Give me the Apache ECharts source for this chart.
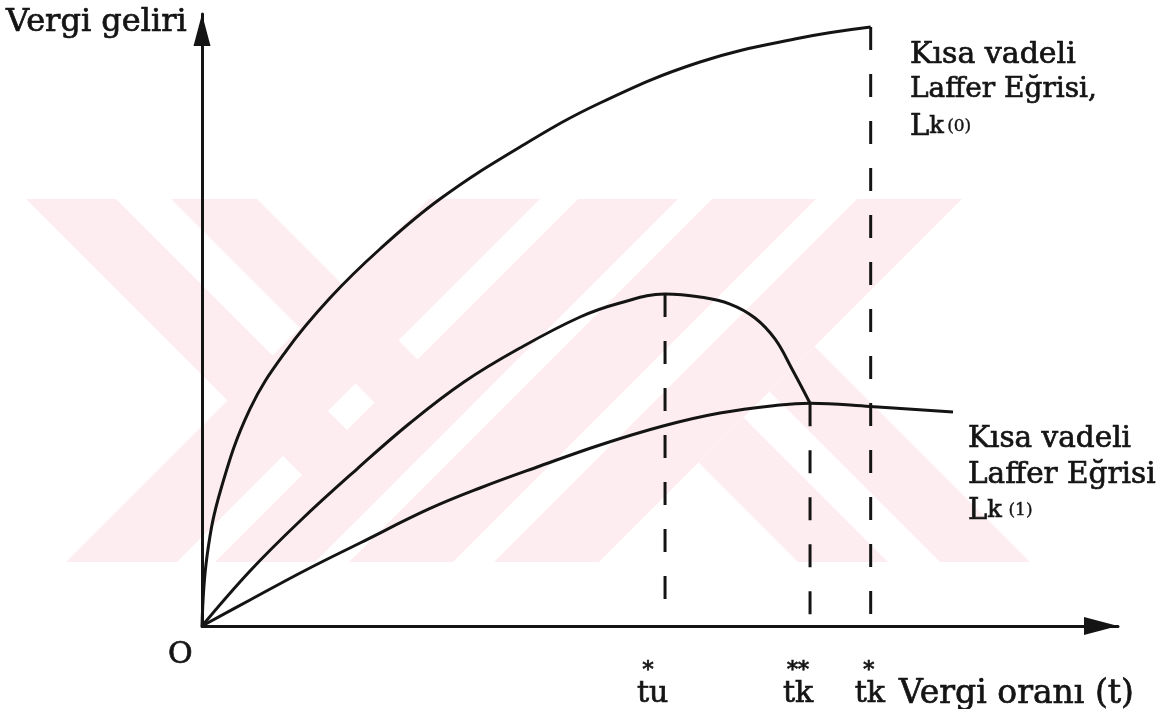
<!DOCTYPE html>
<html>
<head>
<meta charset="utf-8">
<script src="https://cdn.jsdelivr.net/npm/echarts@6/dist/echarts.min.js"></script>
<style>
  html, body { margin: 0; padding: 0; background: #fff; }
  #chart { width: 1169px; height: 709px; }
</style>
</head>
<body>
<div id="chart"></div>
<script>
// curves (x = tax rate, y = revenue, both 0..100)
const lk0Curve = [[0, 0], [0.55, 11.44], [2.07, 22.39], [5.24, 35.46], [9.17, 44.93], [13.97, 53.59],
  [19.43, 61.6], [25.98, 69.77], [34.72, 78.27], [43.45, 85.46], [54.37, 92.16], [65.28, 96.08], [73.0, 97.88]];
const longCurve = [[0, 0], [5.24, 8.99], [10.7, 17.16], [16.92, 25.65], [22.71, 33.17], [28.6, 39.87],
  [34.72, 45.42], [41.27, 50.49], [45.63, 52.78], [50.55, 54.25], [54.37, 53.76], [57.64, 52.61],
  [60.37, 50.33], [62.55, 46.9], [64.41, 41.99], [66.38, 36.4]];
const lk1Curve = [[0, 0], [5.24, 4.25], [11.14, 8.99], [17.25, 13.56], [24.78, 19.12], [30.35, 22.55],
  [36.9, 26.14], [43.45, 29.58], [50.33, 32.68], [56.55, 34.8], [63.1, 36.11], [66.38, 36.4],
  [72.93, 35.87], [81.99, 34.97]];

// vertical dashed guides
const guideX = [50.55, 66.38, 73.0];
const guideTop = [54.25, 36.4, 97.88];
const guideBottom = 1.5;

// labels under the x axis
const guideNames = ['tu', 'tk', 'tk'];
const guideStars = ['*', '**', '*'];
const nameNudge = [-28, -27, -16];
const starNudge = [-17, -12, -2];

const INK = '#141414';
const SERIF = '"DejaVu Serif", "Liberation Serif", serif';

const chart = echarts.init(document.getElementById('chart'), null, { renderer: 'canvas' });

const solid = (name, data) => ({
  type: 'line', name, data, smooth: 0.4,
  showSymbol: false, silent: true, clip: false,
  lineStyle: { color: INK, width: 3 }
});

const dashed = guideX.map((x, i) => ({
  type: 'line', data: [[x, guideTop[i]], [x, guideBottom]],
  showSymbol: false, silent: true,
  lineStyle: { color: INK, width: 3, type: [23, 24], cap: 'butt' }
}));

chart.setOption({
  animation: false,
  backgroundColor: '#ffffff',
  grid: { left: 202, right: 51, top: 14, bottom: 83 },
  xAxis: {
    type: 'value', min: 0, max: 100,
    axisLine: { onZero: false, symbol: ['none', 'triangle'], symbolSize: [18, 34], symbolOffset: [0, -17],
      lineStyle: { color: INK, width: 3 } },
    axisTick: { show: false }, axisLabel: { show: false }, splitLine: { show: false }
  },
  yAxis: {
    type: 'value', min: 0, max: 100,
    axisLine: { onZero: false, symbol: ['none', 'triangle'], symbolSize: [17, 32], symbolOffset: [0, -16],
      lineStyle: { color: INK, width: 3 } },
    axisTick: { show: false }, axisLabel: { show: false }, splitLine: { show: false }
  },
  series: [solid('Lk(0)', lk0Curve), solid('uzun', longCurve), solid('Lk(1)', lk1Curve)].concat(dashed)
});

// faint stripe watermark of the scan
const PINK = '#fdedf0';
const stripes = [
  [[26, 199], [116, 199], [397, 480], [352, 525]],
  [[171, 199], [257, 199], [467.5, 409.5], [424.5, 452.5]],
  [[429, 199], [540, 199], [177, 562], [66, 562]],
  [[578, 199], [678, 199], [315, 562], [215, 562]],
  [[712, 199], [816, 199], [453, 562], [349, 562]],
  [[857, 199], [962, 199], [599, 562], [494, 562]],
  [[698.5, 462.5], [743.5, 417.5], [888, 562], [798, 562]],
  [[769.5, 391.5], [814.5, 346.5], [1030, 562], [940, 562]]
];

const text = (x, y, t, size, extra) => ({
  type: 'text', z: 100, silent: true,
  style: Object.assign({ x, y, text: t, font: size + 'px ' + SERIF, fill: INK,
    stroke: INK, lineWidth: 0.7,
    textAlign: 'left', textVerticalAlign: 'middle' }, extra || {})
});

const lkRich = {
  L: { fontFamily: SERIF, fontSize: 29, fill: INK, stroke: INK, lineWidth: 0.7 },
  k: { fontFamily: SERIF, fontSize: 24, fill: INK, stroke: INK, lineWidth: 0.7 },
  s: { fontFamily: SERIF, fontSize: 17, fill: INK, stroke: INK, lineWidth: 0.4 }
};

const lkText = (x, y, t) => ({
  type: 'text', z: 100, silent: true,
  style: { x, y, text: t, rich: lkRich, fill: INK, textAlign: 'left', textVerticalAlign: 'middle' }
});

const graphics = stripes.map(pts => ({
  type: 'polygon', z: -10, silent: true, shape: { points: pts }, style: { fill: PINK }
}));

graphics.push(
  text(6, 23, 'Vergi geliri', 32),
  text(910, 55, 'Kısa vadeli', 30),
  text(910, 90, 'Laffer Eğrisi,', 28),
  lkText(910, 127, '{L|L}{k|k} {s|(0)}'),
  text(968, 439, 'Kısa vadeli', 29.5),
  text(968, 475, 'Laffer Eğrisi', 29.5),
  lkText(968, 511, '{L|L}{k|k}  {s|(1)}'),
  text(168, 655, 'O', 30),
  text(899, 694, 'Vergi oranı (t)', 33)
);

guideX.forEach((x, i) => {
  const px = chart.convertToPixel({ gridIndex: 0 }, [x, 0])[0];
  graphics.push(text(px + starNudge[i], 671, guideStars[i], 22, { textAlign: 'center' }));
  graphics.push(text(px + nameNudge[i], 694, guideNames[i], 30));
});

chart.setOption({ graphic: graphics });
</script>
</body>
</html>
